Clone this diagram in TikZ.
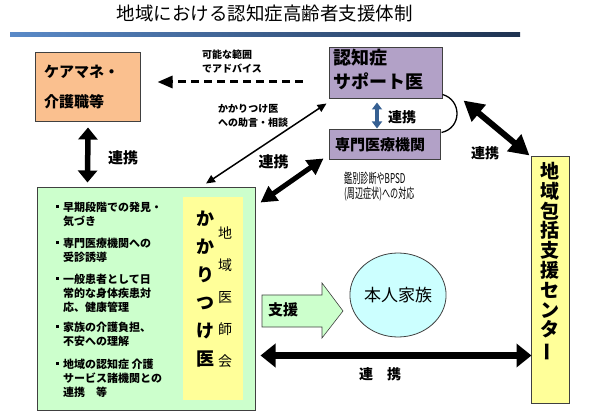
\documentclass[tikz,border=0pt]{standalone}
\usepackage{fontspec}
\usepackage{graphicx}
\setmainfont{Noto Sans CJK JP}
\usetikzlibrary{arrows.meta,calc,shapes.geometric}
\definecolor{peach}{RGB}{250,192,143}
\definecolor{lav}{RGB}{178,161,199}
\definecolor{lgreen}{RGB}{204,255,204}
\definecolor{lyellow}{RGB}{255,255,153}
\definecolor{lcyan}{RGB}{204,255,255}
\definecolor{bluearr}{RGB}{54,96,146}
\definecolor{boxline}{RGB}{64,64,64}
\definecolor{barL}{RGB}{90,138,200}
\definecolor{barR}{RGB}{30,50,80}
\begin{document}
\begin{tikzpicture}[x=1pt,y=-1pt,
  box/.style={draw=boxline,line width=1pt,inner sep=0pt},
  lbl/.style={inner sep=0pt,font=\fontsize{10}{14}\selectfont\bfseries,align=left},
  renkei/.style={inner sep=0pt,font=\fontsize{15}{18}\selectfont\bfseries},
  item/.style={inner sep=0pt,anchor=north west,align=left,font=\fontsize{11}{14}\selectfont\bfseries},
  bullet/.style={fill=black},
  thinarr/.style={line width=1.5pt,{Triangle[length=9pt,width=8pt]}-{Triangle[length=9pt,width=8pt]}},
  midarr/.style={line width=5pt,{Triangle[length=16pt,width=17pt]}-{Triangle[length=16pt,width=17pt]}},
  bigarr/.style={line width=6pt,{Triangle[length=20pt,width=21pt]}-{Triangle[length=20pt,width=21pt]}},
  vertarr/.style={line width=5.5pt,{Triangle[length=12pt,width=19pt]}-{Triangle[length=12pt,width=19pt]}},
  longarr/.style={line width=7pt,{Triangle[length=15pt,width=23pt]}-{Triangle[length=15pt,width=23pt]}},
  bluedbl/.style={line width=3.5pt,bluearr,{Triangle[length=7pt,width=10pt]}-{Triangle[length=7pt,width=10pt]}},
  dasharr/.style={line width=3pt,dash pattern=on 8pt off 5pt,-{Triangle[length=15pt,width=12pt]}}
]
\useasboundingbox (0,0) rectangle (599,411);

% title and bar
\node[inner sep=0pt,font=\fontsize{18.5}{20}\selectfont] (title) at (264.5,13) {地域における認知症高齢者支援体制};
\shade[left color=barL,right color=barR] (10,33) rectangle (520,37);

% care manager box
\node[box,fill=peach,minimum width=105pt,minimum height=69pt] (care) at (87.5,87.5) {};
\node[inner sep=0pt,anchor=west,align=left,font=\fontsize{15}{30}\selectfont\bfseries] (caretxt) at (44,87) {ケアマネ・\\介護職等};

% support doctor
\node[box,fill=lav,minimum width=113pt,minimum height=51pt] (sup) at (385.5,73.5) {};
\node[inner sep=0pt,anchor=west,align=left,font=\fontsize{18}{24}\selectfont\bfseries] (suptxt) at (333,70) {認知症\\サポート医};

% specialist institutions
\node[box,fill=lav,minimum width=111pt,minimum height=30pt] (sem) at (384.5,145) {};
\node[inner sep=0pt,font=\fontsize{15}{18}\selectfont\bfseries] (semtxt) at (380,145) {専門医療機関};

% kakaritsuke box
\node[box,fill=lgreen,minimum width=218pt,minimum height=222pt] (kk) at (146,299) {};
\node[draw=none,fill=lyellow,inner sep=0pt,minimum width=60pt,minimum height=203pt] (kky) at (213,298.5) {};
\node[inner sep=0pt,align=center,font=\fontsize{18}{28}\selectfont\bfseries] (kkv) at (205,289) {か\\か\\り\\つ\\け\\医};
\node[inner sep=0pt,align=center,font=\fontsize{14}{32}\selectfont] (ishikai) at (225,297.5) {地\\域\\医\\師\\会};

% bullet items
\node[item] (i1) at (63,201.5) {早期段階での発見・\\気づき};
\node[item] (i2) at (63,237.5) {専門医療機関への\\受診誘導};
\node[item] (i3) at (63,273.5) {一般患者として日\\常的な身体疾患対\\応、健康管理};
\node[item] (i4) at (63,321.5) {家族の介護負担、\\不安への理解};
\node[item] (i5) at (63,358.5) {地域の認知症 介護\\サービス諸機関との\\連携　等};
\foreach \c in {207,243,279,327,364}{\fill[bullet] (55.5,\c-2) rectangle +(3,3);}

% houkatsu center
\node[box,fill=lyellow,minimum width=38pt,minimum height=246pt] (hk) at (550,280) {};
\node[inner sep=0pt,align=center,font=\fontsize{19}{19.8}\selectfont\bfseries] (hktxt) at (550,262) {地\\域\\包\\括\\支\\援\\セ\\ン\\タ\\\rotatebox[origin=c]{90}{ー}};

% family circle
\node[draw=boxline,line width=0.8pt,fill=lcyan,ellipse,minimum width=89pt,minimum height=84pt,inner sep=0pt,font=\fontsize{17}{20}\selectfont] (fam) at (398,295) {本人家族};

% support arrow
\draw[draw=boxline,line width=0.6pt,fill=lgreen] (262,295) -- (322,295) -- (322,283) -- (343,311) -- (322,338) -- (322,327) -- (262,327) -- cycle;
\node[inner sep=0pt,font=\fontsize{15}{18}\selectfont\bfseries] (shien) at (283,310) {支援};

% connectors
\draw[dasharr] ($(sup.west)+(-26,8.5)$) -- ($(care.east)+(17,-5.5)$);
\node[lbl,anchor=west] (advice) at (202,61.5) {可能な範囲\\でアドバイス};

\draw[thinarr] ($(kk.north)+(60,-4)$) -- ($(sup.south west)+(-2,4)$);
\node[lbl,anchor=west] (jogen) at (218,115.5) {かかりつけ医\\への助言・相談};

\draw[midarr] ($(kk.north east)+(5,15)$) -- ($(sem.south west)+(-5,-2)$);
\node[renkei] (r1) at (273.5,162) {連携};

\draw[bigarr] ($(sup.south east)+(21,1)$) -- ($(hk.north west)+(-1,-1)$);
\node[renkei,font=\fontsize{14}{18}\selectfont\bfseries] (r2) at (485,153) {連携};

\draw[vertarr] ($(care.south)+(0.5,5)$) -- ($(kk.north west)+(51,-5)$);
\node[renkei] (r3) at (123,158) {連携};

\draw[longarr] ($(kk.south east)+(5,-55)$) -- ($(hk.south west)+(1,-48)$);
\node[renkei,font=\fontsize{14}{18}\selectfont\bfseries] (r4) at (380,374) {連　携};

\draw[bluedbl] ($(sup.south)+(-8.5,3)$) -- ($(sem.north)+(-7.5,-1)$);
\node[renkei,font=\fontsize{14}{18}\selectfont\bfseries] (r5) at (402,117) {連携};

\draw[line width=1.3pt] ($(sup.south east)+(0,-5)$) .. controls (462,100) and (462,128) .. ($(sem.north east)+(1,3)$);

\node[inner sep=0pt,anchor=west,align=left,font=\fontsize{13.5}{14.5}\selectfont] (bpsd) at (344,186.5) {\scalebox{0.6}[1]{鑑別診断やBPSD}\\\scalebox{0.6}[1]{(周辺症状)への対応}};
\end{tikzpicture}
\end{document}
